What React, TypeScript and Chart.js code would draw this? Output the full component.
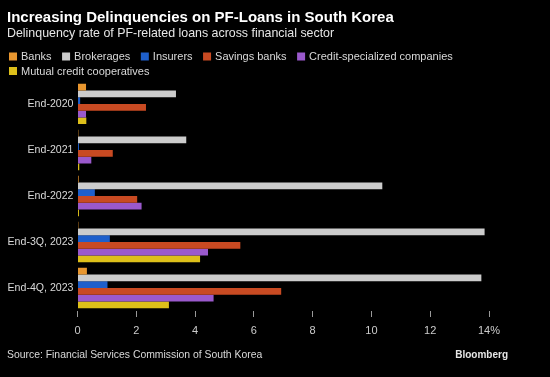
import React, { useEffect, useRef } from "react";
import { Chart, registerables } from "chart.js";

Chart.register(...registerables);

const FONT = "'Liberation Sans', Arial, sans-serif";

const titleText = "Increasing Delinquencies on PF-Loans in South Korea";
const subtitleText = "Delinquency rate of PF-related loans across financial sector";
const sourceText = "Source: Financial Services Commission of South Korea";
const brandText = "Bloomberg";

const categories = ["End-2020", "End-2021", "End-2022", "End-3Q, 2023", "End-4Q, 2023"];
const seriesNames = [
  "Banks",
  "Brokerages",
  "Insurers",
  "Savings banks",
  "Credit-specialized companies",
  "Mutual credit cooperatives",
];
const banks = [0.29, 0.03, 0.04, 0.03, 0.32];
const brokerages = [3.35, 3.7, 10.37, 13.85, 13.74];
const insurers = [0.09, 0.05, 0.59, 1.1, 1.02];
const savingsBanks = [2.33, 1.2, 2.03, 5.54, 6.93];
const creditSpecialized = [0.29, 0.47, 2.18, 4.44, 4.63];
const mutualCredit = [0.3, 0.06, 0.05, 4.17, 3.11];
const seriesColors = ["#E8962F", "#CCCCCC", "#1E5FCB", "#C84A22", "#9A59CC", "#DDBF1A"];
const xTicks = [0, 2, 4, 6, 8, 10, 12, 14];
const xTickLabels = ["0", "2", "4", "6", "8", "10", "12", "14%"];

const seriesValues = [banks, brokerages, insurers, savingsBanks, creditSpecialized, mutualCredit];

const extrasPlugin = {
  id: "extras",
  afterDraw(chart: any) {
    const ctx = chart.ctx as CanvasRenderingContext2D;
    ctx.save();
    // legend
    ctx.font = `11px ${FONT}`;
    ctx.textBaseline = "middle";
    ctx.textAlign = "left";
    const startX = 9;
    const maxRight = 470;
    const box = 8;
    const boxGap = 4;
    const itemGap = 10.5;
    let x = startX;
    let y = 56.5;
    seriesNames.forEach((name, i) => {
      const w = box + boxGap + ctx.measureText(name).width;
      if (x !== startX && x + w > maxRight) {
        x = startX;
        y += 14.5;
      }
      ctx.fillStyle = seriesColors[i];
      ctx.fillRect(x, y - box / 2, box, box);
      ctx.fillStyle = "#D9D9D9";
      ctx.fillText(name, x + box + boxGap, y + 0.5);
      x += w + itemGap;
    });
    // footer
    ctx.fillStyle = "#D9D9D9";
    ctx.font = `10.4px ${FONT}`;
    ctx.textAlign = "left";
    ctx.fillText(sourceText, 7, 355);
    ctx.font = `bold 10px ${FONT}`;
    ctx.fillStyle = "#E6E6E6";
    ctx.textAlign = "right";
    ctx.fillText(brandText, 508, 355);
    ctx.restore();
  },
};

export default function App() {
  const ref = useRef<HTMLCanvasElement | null>(null);

  useEffect(() => {
    document.body.style.margin = "0";
    document.body.style.background = "#000";
    document.body.style.overflow = "hidden";
    const canvas = ref.current;
    if (!canvas) return;
    const chart = new Chart(canvas, {
      type: "bar",
      data: {
        labels: categories,
        datasets: seriesNames.map((name, i) => ({
          label: name,
          data: seriesValues[i],
          backgroundColor: seriesColors[i],
          borderWidth: 0,
          categoryPercentage: 0.88,
          barPercentage: 0.97,
        })),
      },
      options: {
        indexAxis: "y",
        responsive: false,
        animation: false,
        devicePixelRatio: 1,
        layout: { padding: { left: 7, right: 61, top: 0, bottom: 36 } },
        plugins: {
          legend: { display: false },
          tooltip: { enabled: false },
          title: {
            display: true,
            text: titleText,
            align: "start",
            color: "#FFFFFF",
            font: { size: 15, weight: "bold", family: FONT },
            padding: { top: 8.5, bottom: 0 },
          },
          subtitle: {
            display: true,
            text: subtitleText,
            align: "start",
            color: "#E6E6E6",
            font: { size: 12.4, family: FONT },
            padding: { top: 0, bottom: 39.6 },
          },
        },
        scales: {
          x: {
            type: "linear",
            min: 0,
            max: 14,
            afterBuildTicks: (s: any) => {
              s.ticks = xTicks.map((v) => ({ value: v }));
            },
            ticks: {
              color: "#CCCCCC",
              font: { size: 11, family: FONT },
              padding: 7,
              maxRotation: 0,
              callback: (v: any) => {
                const idx = xTicks.indexOf(Number(v));
                return idx >= 0 ? xTickLabels[idx] : String(v);
              },
            },
            grid: { drawOnChartArea: false, drawTicks: true, tickLength: 6, color: "#999999" },
            border: { display: false },
            afterFit: (s: any) => {
              s.height = 30;
            },
          },
          y: {
            type: "category",
            ticks: { color: "#D9D9D9", font: { size: 10.6, family: FONT }, padding: 4 },
            grid: { display: false, drawTicks: false },
            border: { display: false },
            afterFit: (s: any) => {
              s.width = 70.5;
            },
          },
        },
      },
      plugins: [extrasPlugin],
    } as any);
    return () => chart.destroy();
  }, []);

  return (
    <div style={{ width: 550, height: 377, background: "#000" }}>
      <canvas ref={ref} width={550} height={377} style={{ display: "block" }} />
    </div>
  );
}
